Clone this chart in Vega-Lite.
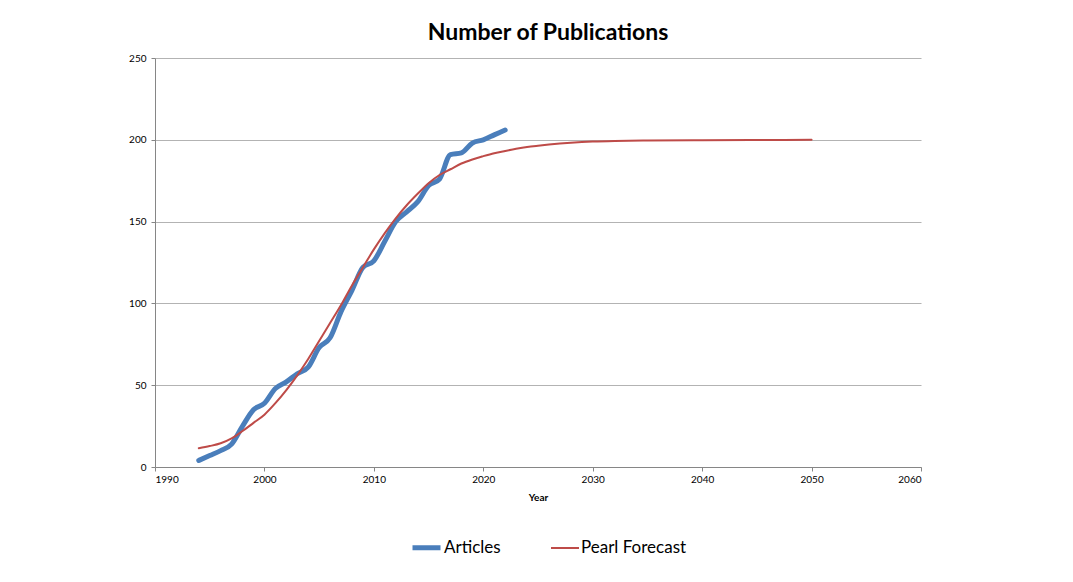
{
  "$schema": "https://vega.github.io/schema/vega-lite/v6.json",
  "width": 766,
  "height": 409,
  "autosize": {"type": "none"},
  "padding": {"left": 155, "top": 58, "right": 152, "bottom": 115},
  "background": "white",
  "title": {
    "text": "Number of Publications",
    "font": "Lato",
    "fontSize": 23,
    "fontWeight": "bold",
    "color": "#000000",
    "anchor": "middle",
    "dx": 10,
    "offset": 8
  },
  "config": {
    "font": "Lato",
    "view": {"stroke": null},
    "axis": {
      "domainColor": "#868686",
      "tickColor": "#868686",
      "gridColor": "#b3b3b3",
      "labelColor": "#000000",
      "labelFont": "Lato",
      "titleFont": "Lato",
      "labelFontSize": 10,
      "tickSize": 4
    }
  },
  "data": {
    "values": [
      {"year": 1994, "value": 4, "series": "Articles"},
      {"year": 1995, "value": 7, "series": "Articles"},
      {"year": 1996, "value": 10, "series": "Articles"},
      {"year": 1997, "value": 14, "series": "Articles"},
      {"year": 1998, "value": 25, "series": "Articles"},
      {"year": 1999, "value": 35, "series": "Articles"},
      {"year": 2000, "value": 39, "series": "Articles"},
      {"year": 2001, "value": 48, "series": "Articles"},
      {"year": 2002, "value": 52, "series": "Articles"},
      {"year": 2003, "value": 57, "series": "Articles"},
      {"year": 2004, "value": 61, "series": "Articles"},
      {"year": 2005, "value": 73, "series": "Articles"},
      {"year": 2006, "value": 79, "series": "Articles"},
      {"year": 2007, "value": 95, "series": "Articles"},
      {"year": 2008, "value": 108, "series": "Articles"},
      {"year": 2009, "value": 122, "series": "Articles"},
      {"year": 2010, "value": 126, "series": "Articles"},
      {"year": 2011, "value": 138, "series": "Articles"},
      {"year": 2012, "value": 150, "series": "Articles"},
      {"year": 2013, "value": 156, "series": "Articles"},
      {"year": 2014, "value": 162, "series": "Articles"},
      {"year": 2015, "value": 172, "series": "Articles"},
      {"year": 2016, "value": 176, "series": "Articles"},
      {"year": 2017, "value": 191, "series": "Articles"},
      {"year": 2018, "value": 192, "series": "Articles"},
      {"year": 2019, "value": 198, "series": "Articles"},
      {"year": 2020, "value": 200, "series": "Articles"},
      {"year": 2021, "value": 203, "series": "Articles"},
      {"year": 2022, "value": 206, "series": "Articles"},
      {"year": 1994, "value": 11.5, "series": "Pearl Forecast"},
      {"year": 1995, "value": 12.8, "series": "Pearl Forecast"},
      {"year": 1996, "value": 14.5, "series": "Pearl Forecast"},
      {"year": 1997, "value": 17.5, "series": "Pearl Forecast"},
      {"year": 1998, "value": 22, "series": "Pearl Forecast"},
      {"year": 1999, "value": 27, "series": "Pearl Forecast"},
      {"year": 2000, "value": 32, "series": "Pearl Forecast"},
      {"year": 2001, "value": 39, "series": "Pearl Forecast"},
      {"year": 2002, "value": 47, "series": "Pearl Forecast"},
      {"year": 2003, "value": 56, "series": "Pearl Forecast"},
      {"year": 2004, "value": 66, "series": "Pearl Forecast"},
      {"year": 2005, "value": 77, "series": "Pearl Forecast"},
      {"year": 2006, "value": 88, "series": "Pearl Forecast"},
      {"year": 2007, "value": 99, "series": "Pearl Forecast"},
      {"year": 2008, "value": 111, "series": "Pearl Forecast"},
      {"year": 2009, "value": 122, "series": "Pearl Forecast"},
      {"year": 2010, "value": 133, "series": "Pearl Forecast"},
      {"year": 2011, "value": 143, "series": "Pearl Forecast"},
      {"year": 2012, "value": 152, "series": "Pearl Forecast"},
      {"year": 2013, "value": 160, "series": "Pearl Forecast"},
      {"year": 2014, "value": 167, "series": "Pearl Forecast"},
      {"year": 2015, "value": 173.5, "series": "Pearl Forecast"},
      {"year": 2016, "value": 178.5, "series": "Pearl Forecast"},
      {"year": 2017, "value": 182, "series": "Pearl Forecast"},
      {"year": 2018, "value": 185.5, "series": "Pearl Forecast"},
      {"year": 2019, "value": 188, "series": "Pearl Forecast"},
      {"year": 2020, "value": 190, "series": "Pearl Forecast"},
      {"year": 2021, "value": 191.8, "series": "Pearl Forecast"},
      {"year": 2022, "value": 193.2, "series": "Pearl Forecast"},
      {"year": 2023, "value": 194.5, "series": "Pearl Forecast"},
      {"year": 2024, "value": 195.6, "series": "Pearl Forecast"},
      {"year": 2025, "value": 196.4, "series": "Pearl Forecast"},
      {"year": 2026, "value": 197.1, "series": "Pearl Forecast"},
      {"year": 2027, "value": 197.7, "series": "Pearl Forecast"},
      {"year": 2028, "value": 198.2, "series": "Pearl Forecast"},
      {"year": 2029, "value": 198.6, "series": "Pearl Forecast"},
      {"year": 2030, "value": 198.9, "series": "Pearl Forecast"},
      {"year": 2032, "value": 199.3, "series": "Pearl Forecast"},
      {"year": 2035, "value": 199.6, "series": "Pearl Forecast"},
      {"year": 2040, "value": 199.8, "series": "Pearl Forecast"},
      {"year": 2045, "value": 199.9, "series": "Pearl Forecast"},
      {"year": 2050, "value": 200, "series": "Pearl Forecast"}
    ]
  },
  "mark": {"type": "line", "interpolate": "monotone", "strokeCap": "round"},
  "encoding": {
    "x": {
      "field": "year",
      "type": "quantitative",
      "scale": {"domain": [1990, 2060], "nice": false, "zero": false},
      "axis": {
        "values": [1990, 2000, 2010, 2020, 2030, 2040, 2050, 2060],
        "format": "d",
        "grid": false,
        "title": "Year",
        "titleFontSize": 10,
        "titleFontWeight": "bold",
        "titleColor": "#000000",
        "titlePadding": 8,
        "labelPadding": 3
      }
    },
    "y": {
      "field": "value",
      "type": "quantitative",
      "scale": {"domain": [0, 250], "nice": false},
      "axis": {
        "values": [0, 50, 100, 150, 200, 250],
        "title": null,
        "grid": true,
        "labelPadding": 5
      }
    },
    "color": {
      "field": "series",
      "type": "nominal",
      "scale": {"domain": ["Articles", "Pearl Forecast"], "range": ["#4a7ebb", "#be4b48"]},
      "legend": {
        "title": null,
        "orient": "none",
        "direction": "horizontal",
        "legendX": 255,
        "legendY": 473,
        "symbolType": "stroke",
        "symbolSize": 784,
        "labelFontSize": 17,
        "labelColor": "#000000",
        "labelFont": "Lato",
        "labelOffset": 1,
        "columnPadding": 46
      }
    },
    "strokeWidth": {
      "field": "series",
      "type": "nominal",
      "scale": {"domain": ["Articles", "Pearl Forecast"], "range": [5, 2]},
      "legend": null
    }
  }
}
